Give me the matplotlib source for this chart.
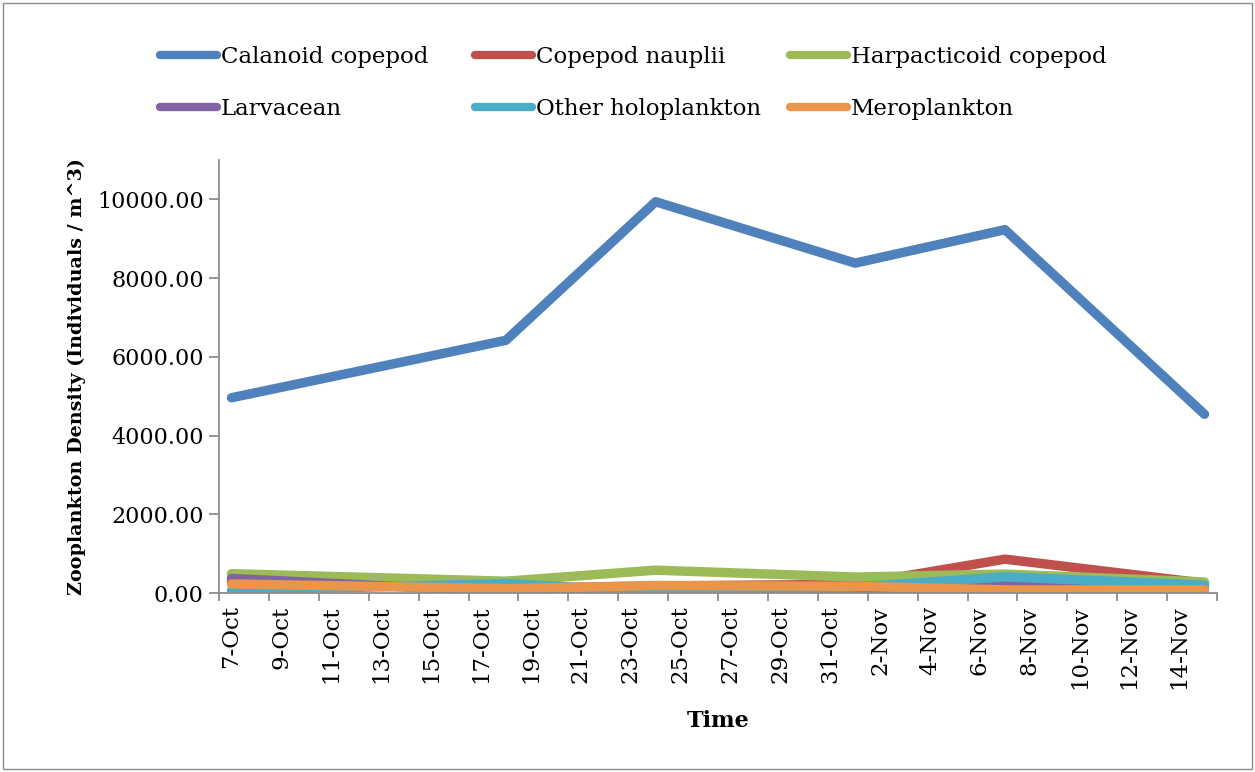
import matplotlib
matplotlib.use("Agg")
import matplotlib.dates as mdates
import matplotlib.pyplot as plt
import pandas as pd
from matplotlib.patches import Rectangle

# sampling dates (year not shown on the chart)
dates = ["7-Oct", "18-Oct", "24-Oct", "1-Nov", "7-Nov", "15-Nov"]

calanoid = [4960, 6420, 9940, 8380, 9230, 4540]
nauplii = [290, 110, 180, 220, 860, 250]
harpacticoid = [490, 300, 580, 405, 480, 280]
larvacean = [370, 30, 20, 10, 210, 150]
other_holo = [60, 240, 40, 150, 410, 200]
meroplankton = [230, 110, 190, 170, 80, 80]

names = ["Calanoid copepod", "Copepod nauplii", "Harpacticoid copepod",
         "Larvacean", "Other holoplankton", "Meroplankton"]
series = [calanoid, nauplii, harpacticoid, larvacean, other_holo, meroplankton]
colors = ["#4F81BD", "#C0504D", "#9BBB59", "#8064A2", "#4BACC6", "#EA954A"]

plt.rcParams["font.family"] = ["DejaVu Serif"]

x = pd.to_datetime([d + "-2012" for d in dates], format="%d-%b-%Y")
xn = mdates.date2num(x)

fig = plt.figure(figsize=(12.55, 7.72), dpi=100)
ax = fig.add_axes([219 / 1255, 1 - 593 / 772, (1217 - 219) / 1255, (593 - 160) / 772])

lines = []
for name, vals, c in zip(names, series, colors):
    ln, = ax.plot(xn, vals, color=c, lw=6.8, solid_capstyle="round",
                  solid_joinstyle="round", label=name)
    lines.append(ln)

# date axis: one slot per day, labels every 2 days
ax.set_xlim(xn[0] - 0.5, xn[-1] + 0.5)
ax.set_ylim(0, 11000)
ax.set_yticks(range(0, 10001, 2000))
ax.yaxis.set_major_formatter(matplotlib.ticker.FormatStrFormatter("%.2f"))

ax.xaxis.set_major_locator(matplotlib.ticker.FixedLocator(
    [xn[0] - 0.5 + 2 * k for k in range(21)]))
ax.xaxis.set_major_formatter(matplotlib.ticker.NullFormatter())
ax.xaxis.set_minor_locator(matplotlib.ticker.FixedLocator(
    [xn[0] + 2 * k for k in range(20)]))
ax.xaxis.set_minor_formatter(mdates.DateFormatter("%-d-%b"))

for s in ["top", "right"]:
    ax.spines[s].set_visible(False)
for s in ["left", "bottom"]:
    ax.spines[s].set_color("#8C8C8C")
    ax.spines[s].set_linewidth(1.3)

ax.tick_params(axis="y", which="major", length=7, width=1.3, color="#8C8C8C",
               labelsize=16, pad=4)
ax.tick_params(axis="x", which="major", length=6, width=1.3, color="#8C8C8C")
ax.tick_params(axis="x", which="minor", length=0, labelsize=16.5, pad=9,
               labelrotation=90)

ax.set_ylabel("Zooplankton Density (Individuals / m^3)", fontsize=13.8,
              fontweight="bold", labelpad=8)
ax.set_xlabel("Time", fontsize=16, fontweight="bold", labelpad=15)

# legend: 2 rows x 3 columns, laid out row by row
col_x = [160, 475, 790]
for j in range(3):
    fig.legend(handles=[lines[j], lines[j + 3]], loc="upper left",
               bbox_to_anchor=(col_x[j] / 1255, 1 - 46 / 772), frameon=False,
               fontsize=16.5, handlelength=2.5, handletextpad=0.15,
               labelspacing=1.3, borderaxespad=0, borderpad=0)
for lg in fig.legends:
    for h in lg.legend_handles:
        h.set_linewidth(6)
        h.set_solid_capstyle("round")

fig.add_artist(Rectangle((3 / 1255, 3 / 772), 1249 / 1255, 766 / 772,
                         transform=fig.transFigure, fill=False,
                         edgecolor="#8C8C8C", lw=1))

fig.savefig("out.png", dpi=100)
